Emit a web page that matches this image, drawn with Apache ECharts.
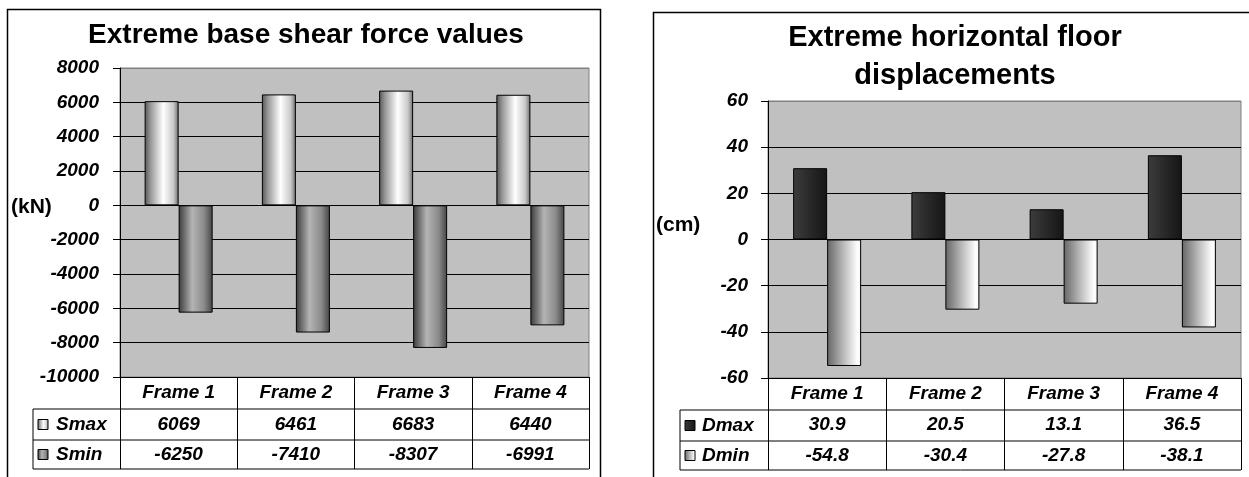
<!DOCTYPE html>
<html>
<head>
<meta charset="utf-8">
<script src="https://cdn.jsdelivr.net/npm/echarts@6/dist/echarts.min.js"></script>
<style>
  html, body { margin: 0; padding: 0; background: #fff; }
  #chart { width: 1249px; height: 477px; }
</style>
</head>
<body>
<div id="chart"></div>
<script>
// Frame results
const frames = ['Frame 1', 'Frame 2', 'Frame 3', 'Frame 4'];
const sMax = [6069, 6461, 6683, 6440];
const sMin = [-6250, -7410, -8307, -6991];
const dMax = [30.9, 20.5, 13.1, 36.5];
const dMin = [-54.8, -30.4, -27.8, -38.1];
const shearTicks = [-10000, -8000, -6000, -4000, -2000, 0, 2000, 4000, 6000, 8000];
const dispTicks = [-60, -40, -20, 0, 20, 40, 60];

const FONT = '"Liberation Sans", Arial, sans-serif';

// plot rectangles
const G0 = { left: 120, top: 68, width: 469, height: 309 };
const G1 = { left: 768, top: 101, width: 473, height: 277 };
const ROW_H = [32, 31, 29];

function grad(stops) {
  return new echarts.graphic.LinearGradient(0, 0, 1, 0,
    stops.map(s => ({ offset: s[0], color: s[1] })));
}
const fillSmax = () => grad([[0, '#555'], [0.18, '#999'], [0.55, '#fff'], [0.85, '#c8c8c8'], [1, '#6a6a6a']]);
const fillSmin = () => grad([[0, '#3a3a3a'], [0.4, '#b4b4b4'], [0.75, '#8a8a8a'], [1, '#444']]);
const fillDmax = () => grad([[0, '#3c3c3c'], [1, '#151515']]);
const fillDmin = () => grad([[0, '#666'], [0.5, '#bdbdbd'], [0.9, '#fff'], [1, '#f2f2f2']]);

const tickFont = { fontFamily: FONT, fontSize: 19, fontWeight: 'bold', fontStyle: 'italic', color: '#000' };

function gridLineColors(n) {
  const arr = [];
  for (let i = 0; i < n; i++) arr.push(i === n - 1 ? '#808080' : '#000');
  return arr;
}

function rowAxis(gridIndex, values, margin, showLine) {
  return {
    type: 'category', gridIndex, data: frames, position: 'bottom',
    axisLine: { show: !!showLine, onZero: false, lineStyle: { color: '#000', width: 1 } },
    axisTick: { show: !!showLine, length: ROW_H[0] + ROW_H[1] + ROW_H[2], lineStyle: { color: '#000', width: 1 } },
    splitLine: { show: false },
    axisLabel: Object.assign({
      interval: 0, margin, verticalAlign: 'middle',
      formatter: (v, i) => String(values ? values[i] : v)
    }, tickFont)
  };
}

function valueAxis(gridIndex, ticks, margin) {
  return {
    type: 'value', gridIndex,
    min: ticks[0], max: ticks[ticks.length - 1], interval: ticks[1] - ticks[0],
    axisLine: { show: true, onZero: false, lineStyle: { color: '#000', width: 1 } },
    axisTick: { show: true, length: 7, lineStyle: { color: '#000' } },
    splitLine: { show: true, lineStyle: { color: gridLineColors(ticks.length), width: 1 } },
    axisLabel: Object.assign({ margin, formatter: v => String(v) }, tickFont)
  };
}

// table rules and legend keys beneath each plot
function tableGraphics(g, keyX, textX, names, fills) {
  const out = [];
  const bottom = g.top + g.height;
  const right = g.left + g.width;
  const tableLeft = keyX - 5;
  const y = bottom + ROW_H[0];
  const lines = [y, y + ROW_H[1], y + ROW_H[1] + ROW_H[2]];
  lines.forEach(ly => out.push({
    type: 'line', shape: { x1: tableLeft, y1: ly, x2: right, y2: ly },
    style: { stroke: '#000', lineWidth: 1 }
  }));
  out.push({
    type: 'line', shape: { x1: tableLeft, y1: lines[0], x2: tableLeft, y2: lines[2] },
    style: { stroke: '#000', lineWidth: 1 }
  });
  names.forEach((nm, i) => {
    const cy = (lines[i] + lines[i + 1]) / 2;
    out.push({
      type: 'rect', shape: { x: keyX, y: cy - 5, width: 10, height: 10 },
      style: { fill: fills[i](), stroke: '#000', lineWidth: 1 }
    });
    out.push({
      type: 'text', x: textX, y: cy,
      style: { text: nm, font: 'italic bold 19px ' + FONT, fill: '#000', textVerticalAlign: 'middle' }
    });
  });
  return out;
}

const chart = echarts.init(document.getElementById('chart'), null, { renderer: 'canvas' });

const option = {
  backgroundColor: '#fff',
  animation: false,
  grid: [
    Object.assign({ show: true, backgroundColor: '#c0c0c0', borderColor: '#808080', borderWidth: 1 }, G0),
    Object.assign({ show: true, backgroundColor: '#c0c0c0', borderColor: '#808080', borderWidth: 1 }, G1)
  ],
  xAxis: [
    rowAxis(0, null, 16, true),
    rowAxis(0, sMax, 47.5, false),
    rowAxis(0, sMin, 77.5, false),
    rowAxis(1, null, 15.5, true),
    rowAxis(1, dMax, 47, false),
    rowAxis(1, dMin, 77.5, false)
  ],
  yAxis: [
    valueAxis(0, shearTicks, 21),
    valueAxis(1, dispTicks, 20)
  ],
  series: [
    { name: 'Smax', type: 'bar', xAxisIndex: 0, yAxisIndex: 0, data: sMax, barWidth: 34, barGap: '0%',
      itemStyle: { color: fillSmax(), borderColor: '#000', borderWidth: 1 } },
    { name: 'Smin', type: 'bar', xAxisIndex: 0, yAxisIndex: 0, data: sMin, barWidth: 34, barGap: '0%',
      itemStyle: { color: fillSmin(), borderColor: '#000', borderWidth: 1 } },
    { name: 'Dmax', type: 'bar', xAxisIndex: 3, yAxisIndex: 1, data: dMax, barWidth: 34, barGap: '0%',
      itemStyle: { color: fillDmax(), borderColor: '#000', borderWidth: 1 } },
    { name: 'Dmin', type: 'bar', xAxisIndex: 3, yAxisIndex: 1, data: dMin, barWidth: 34, barGap: '0%',
      itemStyle: { color: fillDmin(), borderColor: '#000', borderWidth: 1 } }
  ],
  graphic: [
    // outer chart frames
    { type: 'rect', shape: { x: 7.5, y: 9.5, width: 593, height: 490 },
      style: { fill: 'none', stroke: '#000', lineWidth: 1.5 } },
    { type: 'rect', shape: { x: 653.5, y: 12.5, width: 640, height: 490 },
      style: { fill: 'none', stroke: '#000', lineWidth: 1.5 } },
    // titles
    { type: 'text', x: 306, y: 35,
      style: { text: 'Extreme base shear force values', font: 'bold 28px ' + FONT, fill: '#000',
               textAlign: 'center', textVerticalAlign: 'middle' } },
    { type: 'text', x: 955, y: 57,
      style: { text: 'Extreme horizontal floor\ndisplacements', font: 'bold 29px ' + FONT, fill: '#000',
               lineHeight: 38, textAlign: 'center', textVerticalAlign: 'middle' } },
    // unit labels
    { type: 'text', x: 11, y: 207,
      style: { text: '(kN)', font: 'bold 21px ' + FONT, fill: '#000', textVerticalAlign: 'middle' } },
    { type: 'text', x: 656, y: 225,
      style: { text: '(cm)', font: 'bold 21px ' + FONT, fill: '#000', textVerticalAlign: 'middle' } }
  ]
    .concat(tableGraphics(G0, 38, 56, ['Smax', 'Smin'], [fillSmax, fillSmin]))
    .concat(tableGraphics(G1, 685, 702, ['Dmax', 'Dmin'], [fillDmax, fillDmin]))
};

chart.setOption(option);
</script>
</body>
</html>
